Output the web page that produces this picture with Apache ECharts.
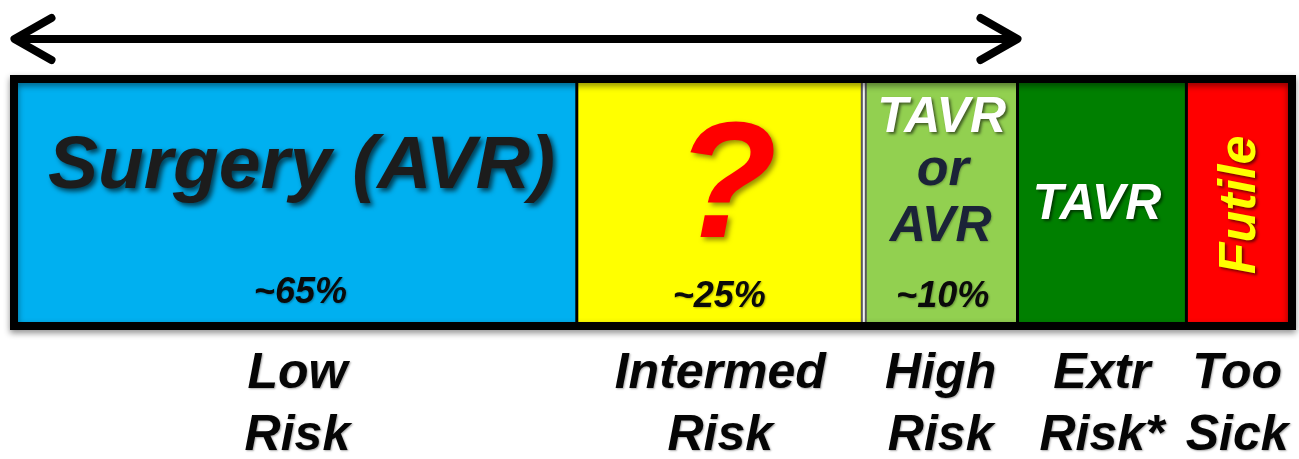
<!DOCTYPE html>
<html>
<head>
<meta charset="utf-8">
<script src="https://cdn.jsdelivr.net/npm/echarts@6/dist/echarts.min.js"></script>
<style>
  html, body { margin: 0; padding: 0; background: #ffffff; }
  #chart { width: 1299px; height: 459px; }
</style>
</head>
<body>
<div id="chart"></div>
<script>
// Risk groups along the bar, left to right
const riskGroups = ['Low\nRisk', 'Intermed\nRisk', 'High\nRisk', 'Extr\nRisk*', 'Too\nSick'];
// Share of the bar's length taken by each group (percent of the full bar)
const spanWidths = [44.0, 22.6, 12.1, 13.3, 8.0];
// Treatment written inside each group, one entry per line
const treatmentText = [['Surgery (AVR)'], ['?'], ['TAVR', 'or', 'AVR'], ['TAVR'], ['Futile']];
// Approximate share of patients in each group
const shareLabels = ['~65%', '~25%', '~10%', '', ''];
// The double arrow spans this many groups from the left
const arrowGroupCount = 3;

const segmentColors = ['#00b0f0', '#ffff00', '#92d050', '#007f00', '#ff0000'];
const FONT = '"Liberation Sans", Arial, Helvetica, sans-serif';

// Cumulative start/end of each group on the value axis
const segments = [];
let acc = 0;
spanWidths.forEach(function (w, i) {
  segments.push([acc, acc + w, i]);
  acc += w;
});
const total = acc;
const arrowEnd = spanWidths.slice(0, arrowGroupCount).reduce(function (a, b) { return a + b; }, 0);

// Text styling per group (offsets are relative to the group centre / bar top)
const textStyles = [
  [{ dx: 4, dy: 84, size: 75, fill: '#1c1c1c', shadow: 'rgba(0,0,0,0.65)', blur: 5, off: 3 }],
  [{ dx: 6, dy: 108, size: 166, fill: '#ff0000', shadow: 'rgba(70,50,0,0.55)', blur: 5, off: 3 }],
  [
    { dx: 1, dy: 35, size: 50, fill: '#ffffff', shadow: 'rgba(0,0,0,0.55)', blur: 3, off: 2 },
    { dx: 2, dy: 88, size: 52, fill: '#1b2338', shadow: 'rgba(0,0,0,0.25)', blur: 2, off: 1 },
    { dx: 0, dy: 144, size: 50, fill: '#1b2338', shadow: 'rgba(0,0,0,0.25)', blur: 2, off: 1 }
  ],
  [{ dx: -5, dy: 122, size: 50, fill: '#ffffff', shadow: 'rgba(0,0,0,0.55)', blur: 3, off: 2 }],
  [{ dx: 3, dy: 122, size: 52, fill: '#ffff00', shadow: 'rgba(0,0,0,0.55)', blur: 3, off: 2, rotate: Math.PI / 2 }]
];
const shareOffsets = [{ dx: 3, dy: 210 }, { dx: -1, dy: 214 }, { dx: 2, dy: 214 }];

function textEl(x, y, text, s) {
  return {
    type: 'text',
    x: x,
    y: y,
    rotation: s.rotate || 0,
    style: {
      text: text,
      fill: s.fill,
      fontSize: s.size,
      fontWeight: 'bold',
      fontStyle: 'italic',
      fontFamily: FONT,
      lineHeight: s.lineHeight,
      align: 'center',
      verticalAlign: 'middle',
      textAlign: 'center',
      textVerticalAlign: 'middle',
      textShadowColor: s.shadow || 'transparent',
      textShadowBlur: s.blur || 0,
      textShadowOffsetX: s.off || 0,
      textShadowOffsetY: s.off || 0
    }
  };
}

function renderSegment(params, api) {
  const i = api.value(2);
  const tl = api.coord([api.value(0), 1]);
  const br = api.coord([api.value(1), 0]);
  const x0 = tl[0], y0 = tl[1], x1 = br[0], y1 = br[1];
  const cx = (x0 + x1) / 2;
  const children = [{
    type: 'rect',
    shape: { x: x0, y: y0, width: x1 - x0, height: y1 - y0 },
    style: { fill: segmentColors[i] }
  }];
  // divider on the left edge
  if (i === 2) {
    children.push({ type: 'rect', shape: { x: x0 - 3, y: y0, width: 6, height: y1 - y0 }, style: { fill: '#5a5a5a' } });
    children.push({ type: 'rect', shape: { x: x0 - 1, y: y0, width: 2, height: y1 - y0 }, style: { fill: '#f4f4f4' } });
  } else if (i > 0) {
    children.push({ type: 'line', shape: { x1: x0, y1: y0, x2: x0, y2: y1 }, style: { stroke: '#000000', lineWidth: 3 } });
  }
  treatmentText[i].forEach(function (t, k) {
    const s = textStyles[i][k];
    children.push(textEl(cx + s.dx, y0 + s.dy, t, s));
  });
  if (shareLabels[i]) {
    const o = shareOffsets[i];
    children.push(textEl(cx + o.dx, y0 + o.dy, shareLabels[i],
      { size: 36, fill: '#0a0a0a', shadow: 'rgba(0,0,0,0.3)', blur: 2, off: 1 }));
  }
  // group name under the bar
  children.push(textEl(cx, y1 + 83, riskGroups[i],
    { size: 50, lineHeight: 62, fill: '#050505', shadow: 'rgba(0,0,0,0.35)', blur: 2, off: 1 }));
  return { type: 'group', children: children };
}

function renderFrame(params, api) {
  const tl = api.coord([api.value(0), 1]);
  const br = api.coord([api.value(1), 0]);
  return {
    type: 'rect',
    shape: { x: tl[0] - 4, y: tl[1] - 4, width: br[0] - tl[0] + 8, height: br[1] - tl[1] + 8 },
    style: {
      fill: 'none',
      stroke: '#000000',
      lineWidth: 8,
      shadowColor: 'rgba(0,0,0,0.45)',
      shadowBlur: 6,
      shadowOffsetX: 0,
      shadowOffsetY: 3
    }
  };
}

function renderArrow(params, api) {
  const a = api.coord([api.value(0), 1]);
  const b = api.coord([api.value(1), 1]);
  const y = a[1] - 44;
  const xs = a[0] - 3.5, xe = b[0];
  const st = { stroke: '#000000', lineWidth: 8, lineCap: 'round', lineJoin: 'round', fill: 'none' };
  return {
    type: 'group',
    children: [
      { type: 'line', shape: { x1: xs + 2, y1: y, x2: xe - 2, y2: y }, style: st },
      { type: 'polyline', shape: { points: [[xs + 37, y - 21], [xs, y], [xs + 37, y + 21]] }, style: st },
      { type: 'polyline', shape: { points: [[xe - 37, y - 21], [xe, y], [xe - 37, y + 21]] }, style: st }
    ]
  };
}

const chart = echarts.init(document.getElementById('chart'), null, { renderer: 'canvas' });
chart.setOption({
  animation: false,
  backgroundColor: '#ffffff',
  grid: { left: 18, right: 11, top: 83, bottom: 137 },
  xAxis: { type: 'value', min: 0, max: total, show: false },
  yAxis: { type: 'value', min: 0, max: 1, show: false },
  series: [
    {
      type: 'custom',
      name: 'groups',
      renderItem: renderSegment,
      encode: { x: [0, 1] },
      data: segments,
      clip: false,
      z: 2
    },
    {
      type: 'custom',
      name: 'frame',
      renderItem: renderFrame,
      encode: { x: [0, 1] },
      data: [[0, total]],
      clip: false,
      z: 5
    },
    {
      type: 'custom',
      name: 'arrow',
      renderItem: renderArrow,
      encode: { x: [0, 1] },
      data: [[0, arrowEnd]],
      clip: false,
      z: 5
    }
  ]
});
</script>
</body>
</html>
